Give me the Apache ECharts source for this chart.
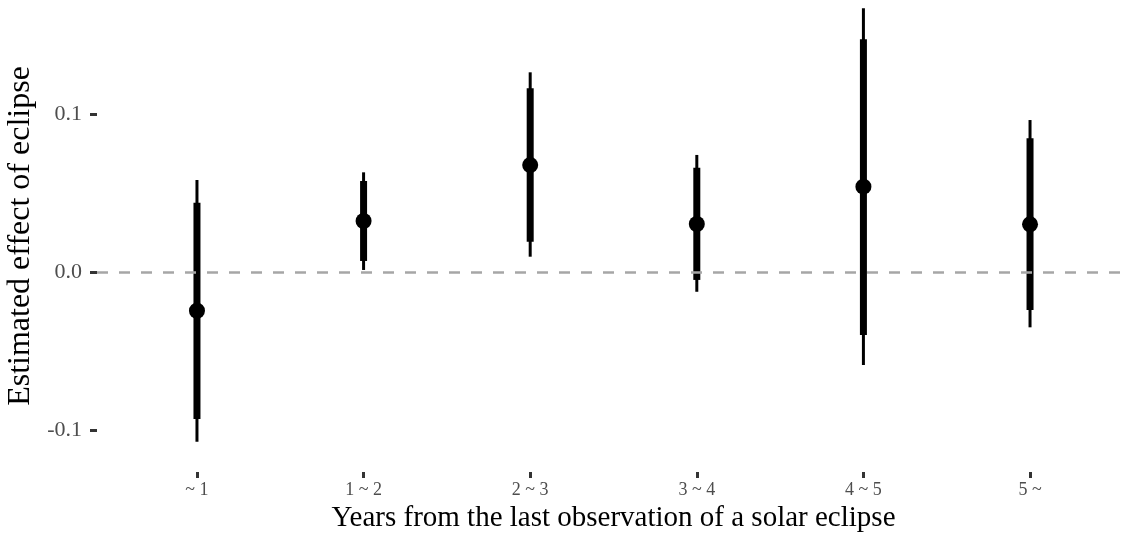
<!DOCTYPE html>
<html>
<head>
<meta charset="utf-8">
<script src="https://cdn.jsdelivr.net/npm/echarts@6.0.0/dist/echarts.min.js"></script>
<style>
html,body{margin:0;padding:0;background:#fff;}
#chart{width:1130px;height:533px;}
</style>
</head>
<body>
<div id="chart"></div>
<script>
// Data
const categories = ['~ 1', '1 ~ 2', '2 ~ 3', '3 ~ 4', '4 ~ 5', '5 ~'];
const estimate = [-0.0242, 0.0326, 0.0680, 0.0307, 0.0543, 0.0305];
const inner_low = [-0.0927, 0.0073, 0.0195, -0.0047, -0.0396, -0.0237];
const inner_high = [0.0442, 0.0579, 0.1166, 0.0663, 0.1476, 0.0849];
const outer_low = [-0.1071, 0.0016, 0.0100, -0.0122, -0.0585, -0.0347];
const outer_high = [0.0585, 0.0634, 0.1267, 0.0744, 0.1672, 0.0965];
const yTicks = [-0.1, 0, 0.1];
const xTicks = [1, 2, 3, 4, 5, 6];

const font = '"Liberation Serif", "DejaVu Serif", serif';

function rangeData(lo, hi) {
  return categories.map((c, i) => [i + 1, lo[i], hi[i]]);
}
function barRenderer(width) {
  return function (params, api) {
    const x = api.value(0);
    const p1 = api.coord([x, api.value(1)]);
    const p2 = api.coord([x, api.value(2)]);
    return {
      type: 'line',
      shape: { x1: p1[0], y1: p1[1], x2: p2[0], y2: p2[1] },
      style: { stroke: '#000', lineWidth: width, lineCap: 'butt' }
    };
  };
}

const chart = echarts.init(document.getElementById('chart'), null, { renderer: 'canvas' });
chart.setOption({
  animation: false,
  backgroundColor: '#fff',
  grid: { left: 97, right: 0, top: 0, bottom: 61, containLabel: false, outerBoundsMode: 'none' },
  xAxis: {
    type: 'value',
    min: 0.4, max: 6.6,
    splitLine: { show: false },
    axisLine: { show: true, onZero: false, lineStyle: { color: '#fff', opacity: 0 } },
    axisTick: { show: true, customValues: xTicks, length: 6, lineStyle: { color: '#333', width: 3, opacity: 1 } },
    axisLabel: {
      customValues: xTicks,
      formatter: v => categories[Math.round(v) - 1] || '',
      fontFamily: font, fontSize: 18, color: '#4d4d4d', margin: 9
    },
    name: 'Years from the last observation of a solar eclipse',
    nameLocation: 'middle', nameGap: 28,
    nameTextStyle: { fontFamily: font, fontSize: 29, color: '#000' }
  },
  yAxis: {
    type: 'value',
    min: -0.12627, max: 0.17247,
    splitLine: { show: false },
    axisLine: { show: false },
    axisTick: { show: true, customValues: yTicks, length: 7, lineStyle: { color: '#333', width: 3 } },
    axisLabel: {
      customValues: yTicks,
      formatter: v => v.toFixed(1),
      fontFamily: font, fontSize: 22, color: '#4d4d4d', margin: 15
    },
    name: 'Estimated effect of eclipse',
    nameLocation: 'middle', nameGap: 54, nameRotate: 90,
    nameTextStyle: { fontFamily: font, fontSize: 32, color: '#000' }
  },
  series: [
    {
      type: 'line', data: [], z: 1,
      markLine: {
        silent: true, symbol: 'none', label: { show: false },
        lineStyle: { color: '#a6a6a6', width: 2.5, type: [11, 11] },
        data: [{ yAxis: 0 }]
      }
    },
    { type: 'custom', z: 2, renderItem: barRenderer(3), data: rangeData(outer_low, outer_high), encode: { x: 0, y: [1, 2] } },
    { type: 'custom', z: 3, renderItem: barRenderer(7), data: rangeData(inner_low, inner_high), encode: { x: 0, y: [1, 2] } },
    {
      type: 'scatter', z: 4, symbol: 'circle', symbolSize: 16,
      itemStyle: { color: '#000', opacity: 1 },
      data: estimate.map((v, i) => [i + 1, v])
    }
  ]
});
</script>
</body>
</html>
